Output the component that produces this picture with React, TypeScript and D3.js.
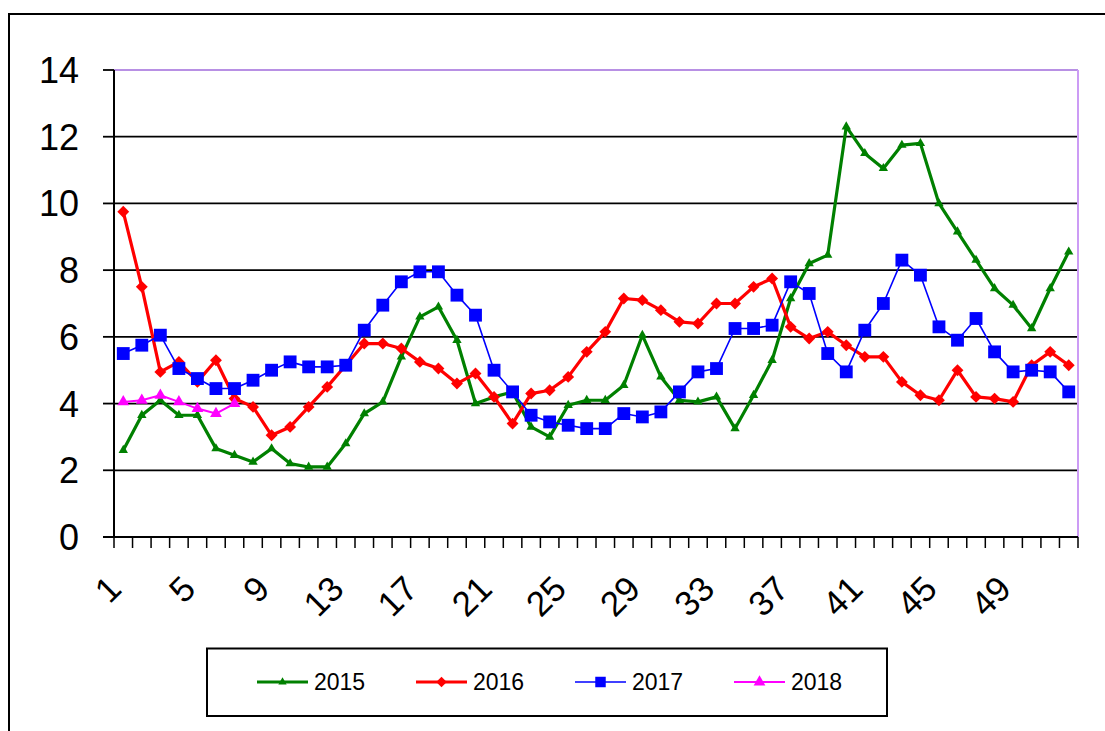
import * as d3 from "d3";

const WIDTH = 1105;
const HEIGHT = 731;
const PLOT = { left: 114, right: 1078, top: 70, bottom: 537 };

// weeks 1..52 on the category axis
const weeks = d3.range(1, 53);
const xTickLabels = [1, 5, 9, 13, 17, 21, 25, 29, 33, 37, 41, 45, 49];
const yTicks = [0, 2, 4, 6, 8, 10, 12, 14];

const v2015 = [
  2.6, 3.65, 4.1, 3.65, 3.65, 2.65, 2.45, 2.25, 2.65, 2.2,
  2.1, 2.1, 2.8, 3.7, 4.05, 5.4, 6.6, 6.9, 5.9, 4.0,
  4.2, 4.35, 3.3, 3.0, 3.95, 4.1, 4.1, 4.55, 6.05, 4.8,
  4.1, 4.05, 4.2, 3.25, 4.25, 5.3, 7.15, 8.2, 8.45, 12.3,
  11.5, 11.05, 11.75, 11.8, 10.0, 9.15, 8.3, 7.45, 6.95, 6.25,
  7.45, 8.55,
];
const v2016 = [
  9.75, 7.5, 4.95, 5.25, 4.65, 5.3, 4.15, 3.9, 3.05, 3.3,
  3.9, 4.5, 5.15, 5.8, 5.8, 5.65, 5.25, 5.05, 4.6, 4.9,
  4.2, 3.4, 4.3, 4.4, 4.8, 5.55, 6.15, 7.15, 7.1, 6.8,
  6.45, 6.4, 7.0, 7.0, 7.5, 7.75, 6.3, 5.95, 6.15, 5.75,
  5.4, 5.4, 4.65, 4.25, 4.1, 5.0, 4.2, 4.15, 4.05, 5.15,
  5.55, 5.15,
];
const v2017 = [
  5.5, 5.75, 6.05, 5.05, 4.75, 4.45, 4.45, 4.7, 5.0, 5.25,
  5.1, 5.1, 5.15, 6.2, 6.95, 7.65, 7.95, 7.95, 7.25, 6.65,
  5.0, 4.35, 3.65, 3.45, 3.35, 3.25, 3.25, 3.7, 3.6, 3.75,
  4.35, 4.95, 5.05, 6.25, 6.25, 6.35, 7.65, 7.3, 5.5, 4.95,
  6.2, 7.0, 8.3, 7.85, 6.3, 5.9, 6.55, 5.55, 4.95, 5.0,
  4.95, 4.35,
];
const v2018 = [4.05, 4.1, 4.25, 4.05, 3.85, 3.7, 4.0];

const seriesNames = ["2015", "2016", "2017", "2018"];
const seriesValues = [v2015, v2016, v2017, v2018];

const STYLES = [
  { color: "#008000", width: 3.2, symbol: d3.symbolTriangle, size: 38, legendSize: 30 },
  { color: "#ff0000", width: 3.2, symbol: d3.symbolDiamond2, size: 90, legendSize: 70 },
  { color: "#0000ff", width: 1.6, symbol: d3.symbolSquare, size: 165, legendSize: 110 },
  { color: "#ff00ff", width: 2, symbol: d3.symbolTriangle, size: 60, legendSize: 60 },
];

const FONT = "'Liberation Sans', Arial, sans-serif";

export default function App() {
  const x = d3.scaleBand<number>().domain(weeks).range([PLOT.left, PLOT.right]).padding(0);
  const y = d3.scaleLinear().domain([0, 14]).range([PLOT.bottom, PLOT.top]);
  const cx = (w: number) => (x(w) as number) + x.bandwidth() / 2;

  const line = d3
    .line<number>()
    .x((_, i) => cx(weeks[i]))
    .y((d) => y(d));

  const legendX0 = 257;
  const legendStep = 159;
  const legendY = 682;

  return (
    <svg
      width={WIDTH}
      height={HEIGHT}
      style={{ position: "absolute", left: 0, top: 0, background: "#fff" }}
      fontFamily={FONT}
    >
      {/* outer chart frame */}
      <rect x={9} y={14} width={1200} height={800} fill="#fff" stroke="#000" strokeWidth={2} />

      {/* gridlines */}
      {yTicks.filter((t) => t > 0 && t < 14).map((t) => (
        <line key={t} x1={PLOT.left} x2={PLOT.right} y1={y(t)} y2={y(t)} stroke="#000" strokeWidth={1.8} />
      ))}

      {/* plot area border, top and right */}
      <line x1={PLOT.left} x2={PLOT.right} y1={PLOT.top} y2={PLOT.top} stroke="#b890e4" strokeWidth={2} />
      <line x1={PLOT.right} x2={PLOT.right} y1={PLOT.top} y2={PLOT.bottom} stroke="#cc9cf5" strokeWidth={2} />

      {/* y axis */}
      <line x1={PLOT.left} x2={PLOT.left} y1={PLOT.top} y2={PLOT.bottom + 1} stroke="#000" strokeWidth={2} />
      {yTicks.map((t) => (
        <g key={t}>
          <line x1={103} x2={PLOT.left} y1={y(t)} y2={y(t)} stroke="#000" strokeWidth={1.8} />
          <text x={79} y={y(t)} dy="0.36em" textAnchor="end" fontSize={36} fill="#000">
            {t}
          </text>
        </g>
      ))}

      {/* x axis */}
      <line x1={PLOT.left - 11} x2={PLOT.right} y1={PLOT.bottom} y2={PLOT.bottom} stroke="#000" strokeWidth={2} />
      {weeks.concat([53]).map((w) => {
        const px = w === 53 ? PLOT.right : (x(w) as number);
        return <line key={w} x1={px} x2={px} y1={PLOT.bottom} y2={PLOT.bottom + 11} stroke="#000" strokeWidth={1.5} />;
      })}
      {xTickLabels.map((w) => (
        <text
          key={w}
          transform={`translate(${cx(w)},${PLOT.bottom + 54}) rotate(-45)`}
          textAnchor="end"
          fontSize={35}
          fill="#000"
        >
          {w}
        </text>
      ))}

      {/* series */}
      {seriesValues.map((vals, si) => {
        const st = STYLES[si];
        const sym = d3.symbol().type(st.symbol).size(st.size)() as string;
        return (
          <g key={seriesNames[si]}>
            <path d={line(vals) as string} fill="none" stroke={st.color} strokeWidth={st.width} strokeLinejoin="round" />
            {vals.map((v, i) => (
              <path key={i} d={sym} transform={`translate(${cx(weeks[i])},${y(v)})`} fill={st.color} />
            ))}
          </g>
        );
      })}

      {/* legend */}
      <rect x={207} y={648.5} width={680} height={67.5} fill="#fff" stroke="#000" strokeWidth={2} />
      {seriesNames.map((name, si) => {
        const st = STYLES[si];
        const lx = legendX0 + si * legendStep;
        const sym = d3.symbol().type(st.symbol).size(st.legendSize)() as string;
        return (
          <g key={name}>
            <line x1={lx} x2={lx + 51} y1={legendY} y2={legendY} stroke={st.color} strokeWidth={st.width} />
            <path d={sym} transform={`translate(${lx + 25.5},${legendY})`} fill={st.color} />
            <text x={lx + 57} y={legendY} dy="0.36em" fontSize={23} fill="#000">
              {name}
            </text>
          </g>
        );
      })}
    </svg>
  );
}
